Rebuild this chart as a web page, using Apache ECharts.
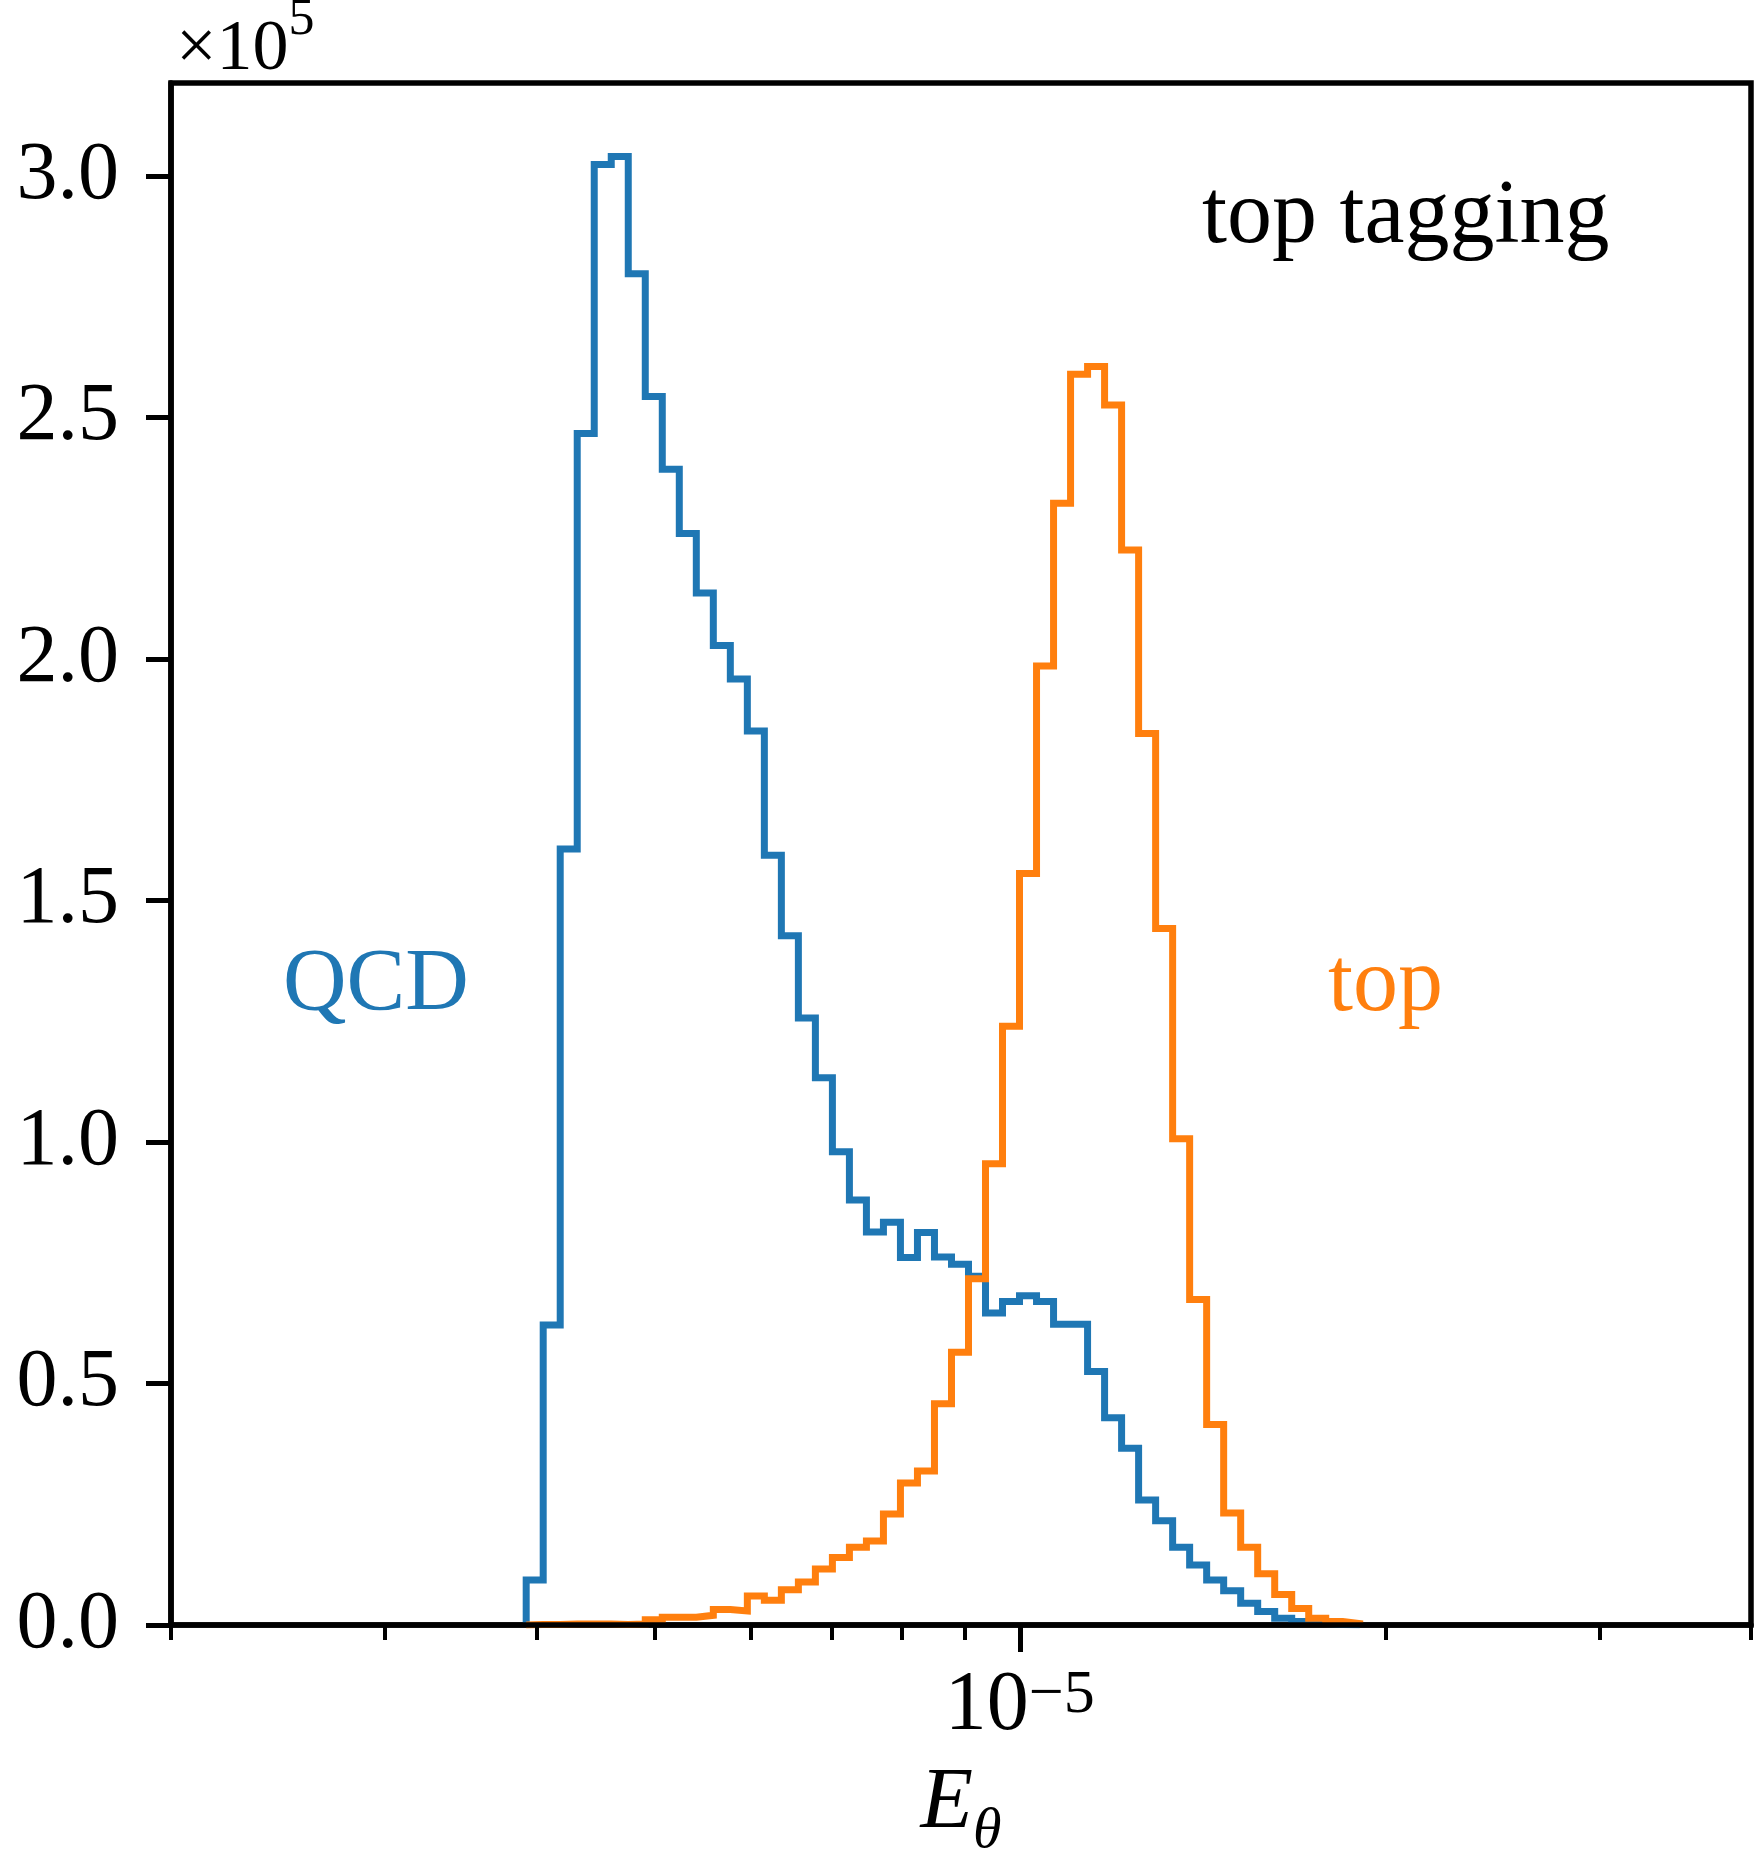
<!DOCTYPE html>
<html><head><meta charset="utf-8">
<script src="https://cdn.jsdelivr.net/npm/echarts@6/dist/echarts.min.js"></script>
<style>html,body{margin:0;padding:0;background:#fff}#c{width:1757px;height:1852px}</style>
</head><body><div id="c"></div>
<script>
// ---- data ----
const binMin = 3.922e-6;   // first bin edge of E_theta
const binMax = 1.905e-5;   // last bin edge
const nBins = 49;          // log-spaced bins
const qcdCounts = [9300, 62100, 160700, 246700, 302400, 304100, 279800, 254400, 239300, 226000,
  213700, 202800, 195900, 185100, 159400, 142700, 125700, 113300, 98000, 88000,
  81400, 83400, 76100, 81300, 76200, 74700, 72200, 64600, 67000, 68200,
  67000, 62300, 62300, 52500, 42900, 36600, 25900, 21600, 16100, 12400,
  9300, 7100, 4500, 2800, 1400, 700, 300, 100, 50];
const topCounts = [100, 100, 200, 200, 200, 100, 200, 1100, 1600, 1600,
  2000, 3200, 2900, 6000, 5100, 7300, 8900, 11600, 14000, 16100,
  17400, 23000, 29400, 31900, 45800, 56500, 71700, 95500, 124000, 155600,
  198600, 232300, 259000, 260600, 252600, 222600, 184600, 144200, 100700, 67400,
  41500, 23200, 16100, 10600, 6300, 3400, 1400, 700, 300];
const xRange = [2e-6, 4e-5];
const xMinorTicks = [2e-6, 3e-6, 4e-6, 5e-6, 6e-6, 7e-6, 8e-6, 9e-6, 2e-5, 3e-5, 4e-5];
const xMajorTicks = [1e-5];
const yTicks = [0, 50000, 100000, 150000, 200000, 250000, 300000];
const yMax = 319300;
const seriesNames = ['QCD', 'top'];

// ---- build ----
const edges = [];
for (let i = 0; i <= nBins; i++) edges.push(binMin * Math.pow(binMax / binMin, i / nBins));
function stepData(counts) {
  const d = [[edges[0], 0]];
  counts.forEach((c, i) => d.push([edges[i], c]));
  d.push([edges[nBins], 0]);
  return d;
}
const FONT = "'Liberation Serif', 'DejaVu Serif', serif";
const BLUE = '#1f77b4', ORANGE = '#ff7f0e';

const chart = echarts.init(document.getElementById('c'), null, {renderer: 'canvas'});
chart.setOption({
  animation: false,
  backgroundColor: '#fff',
  grid: {left: 171, right: 6, top: 83, bottom: 227, containLabel: false, outerBoundsMode: 'none',
         show: true, borderColor: '#000', borderWidth: 5.5, backgroundColor: 'transparent'},
  xAxis: [{
    type: 'log', logBase: 10, min: xRange[0], max: xRange[1], position: 'bottom', z: 10,
    axisLine: {show: true, onZero: false, lineStyle: {color: '#000', width: 5.5}},
    axisTick: {show: true, customValues: xMinorTicks, length: 15, lineStyle: {color: '#000', width: 4}},
    axisLabel: {show: false},
    splitLine: {show: false}, minorTick: {show: false},
    name: '{e|E}{s|θ}', nameLocation: 'middle', nameGap: 136,
    nameTextStyle: {color: '#000', rich: {
      e: {fontSize: 86, fontStyle: 'italic', fontFamily: FONT, lineHeight: 100, verticalAlign: 'top', color: '#000'},
      s: {fontSize: 58, fontStyle: 'italic', fontFamily: FONT, lineHeight: 58, verticalAlign: 'bottom', color: '#000'}
    }}
  }, {
    type: 'log', logBase: 10, min: xRange[0], max: xRange[1], position: 'bottom', z: 10,
    axisLine: {show: false},
    axisTick: {show: true, customValues: xMajorTicks, length: 27, lineStyle: {color: '#000', width: 5}},
    axisLabel: {show: true, customValues: xMajorTicks, margin: 40,
      formatter: () => '{a|10}{b|−5}',
      rich: {
        a: {fontSize: 84, fontFamily: FONT, lineHeight: 84, verticalAlign: 'top', color: '#000'},
        b: {fontSize: 62, fontFamily: FONT, lineHeight: 62, verticalAlign: 'top', color: '#000'}
      }},
    splitLine: {show: false}, minorTick: {show: false}
  }],
  yAxis: {
    type: 'value', min: 0, max: yMax, z: 10,
    axisLine: {show: true, onZero: false, lineStyle: {color: '#000', width: 5.5}},
    axisTick: {show: true, customValues: yTicks, length: 25, lineStyle: {color: '#000', width: 5}},
    axisLabel: {show: true, customValues: yTicks, margin: 52, fontSize: 82, fontFamily: FONT, color: '#000',
      formatter: v => (v / 1e5).toFixed(1)},
    splitLine: {show: false}
  },
  series: [
    {name: seriesNames[0], type: 'line', step: 'end', xAxisIndex: 0, showSymbol: false, symbol: 'none',
     data: stepData(qcdCounts), lineStyle: {color: BLUE, width: 7, join: 'miter'}, z: 2},
    {name: seriesNames[1], type: 'line', step: 'end', xAxisIndex: 0, showSymbol: false, symbol: 'none',
     data: stepData(topCounts), lineStyle: {color: ORANGE, width: 7, join: 'miter'}, z: 3}
  ],
  graphic: [
    {type: 'text', x: 176, y: -6, style: {text: '{a|×10}{b|5}', align: 'left', verticalAlign: 'top', fill: '#000',
      rich: {a: {fontSize: 72, fontFamily: FONT, lineHeight: 92, verticalAlign: 'bottom'},
             b: {fontSize: 52, fontFamily: FONT, lineHeight: 52, verticalAlign: 'top'}}}},
    {type: 'text', x: 1202, y: 218, style: {text: 'top tagging', fontSize: 90, fontFamily: FONT, fill: '#000', align: 'left', verticalAlign: 'middle'}},
    {type: 'text', x: 283, y: 986, style: {text: 'QCD', fontSize: 88, fontFamily: FONT, fill: BLUE, align: 'left', verticalAlign: 'middle'}},
    {type: 'text', x: 1328, y: 986, style: {text: 'top', fontSize: 90, fontFamily: FONT, fill: ORANGE, align: 'left', verticalAlign: 'middle'}}
  ]
});
</script></body></html>
